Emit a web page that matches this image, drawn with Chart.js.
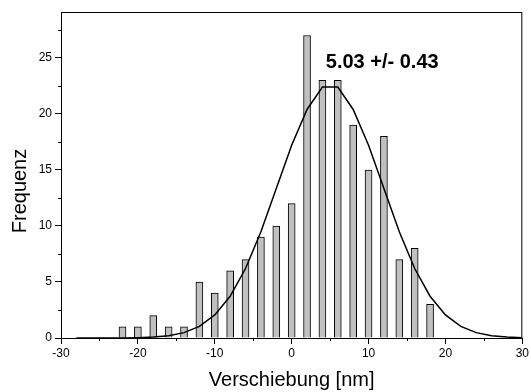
<!DOCTYPE html>
<html>
<head>
<meta charset="utf-8">
<script src="https://cdn.jsdelivr.net/npm/chart.js@4"></script>
<style>
  html, body { margin: 0; padding: 0; background: #fff; }
  #wrap { width: 531px; height: 392px; }
</style>
</head>
<body>
<div id="wrap"><canvas id="chart"></canvas></div>
<script>
// histogram bins (nm) and counts
const binCenters = [-22, -20, -18, -16, -14, -12, -10, -8, -6, -4, -2, 0, 2, 4, 6, 8, 10, 12, 14, 16, 18];
const counts     = [1, 1, 2, 1, 1, 5, 4, 6, 7, 9, 10, 12, 27, 23, 23, 19, 15, 18, 7, 8, 3];

// gauss fit, every 2 nm
const fitX = [-28, -26, -24, -22, -20, -18, -16, -14, -12, -10, -8, -6, -4, -2, 0, 2, 4, 6, 8, 10, 12, 14, 16, 18, 20, 22, 24, 26, 28, 30];
const fitY = [0, 0, 0, 0.01, 0.03, 0.08, 0.21, 0.48, 1.04, 2.06, 3.73, 6.2, 9.49, 13.34, 17.2, 20.4, 22.4, 22.4, 20.4, 17.2, 13.34, 9.49, 6.2, 3.73, 2.06, 1.04, 0.48, 0.21, 0.08, 0.03];

const fitLabel = '5.03 +/- 0.43';
const yTitle = 'Frequenz';

const font = 'Liberation Sans, Arial, sans-serif';

const boxPlugin = {
  id: 'box',
  afterDraw(chart) {
    const { ctx, chartArea: a, scales } = chart;
    ctx.save();
    ctx.strokeStyle = '#000';
    ctx.lineWidth = 1;
    ctx.strokeRect(a.left + 0.5, a.top + 0.5, a.right - a.left - 1, a.bottom - a.top);

    // minor ticks
    ctx.beginPath();
    for (let v = -25; v <= 25; v += 10) {
      const px = Math.round(scales.x.getPixelForValue(v)) + 0.5;
      ctx.moveTo(px, a.bottom);
      ctx.lineTo(px, a.bottom + 3);
    }
    for (let v = 2.5; v <= 27.5; v += 5) {
      const py = Math.round(scales.y.getPixelForValue(v)) + 0.5;
      ctx.moveTo(a.left, py);
      ctx.lineTo(a.left - 3, py);
    }
    ctx.stroke();

    ctx.fillStyle = '#000';
    ctx.font = 'bold 20px ' + font;
    ctx.textAlign = 'center';
    ctx.textBaseline = 'middle';
    ctx.fillText(fitLabel, scales.x.getPixelForValue(11.78), scales.y.getPixelForValue(24.6));

    // y title, sits a bit below the middle like the original
    ctx.font = '20px ' + font;
    ctx.translate(20, 191);
    ctx.rotate(-Math.PI / 2);
    ctx.fillText(yTitle, 0, 0);
    ctx.restore();
  }
};

new Chart(document.getElementById('chart'), {
  data: {
    datasets: [
      {
        type: 'line',
        data: fitX.map((x, i) => ({ x: x, y: fitY[i] })),
        borderColor: '#000',
        borderWidth: 1.5,
        pointRadius: 0,
        tension: 0,
        fill: false,
        order: 0
      },
      {
        type: 'bar',
        data: binCenters.map((x, i) => ({ x: x, y: counts[i] })),
        backgroundColor: '#c0c0c0',
        borderColor: '#000',
        borderWidth: 1,
        barThickness: 7,
        order: 1
      }
    ]
  },
  options: {
    responsive: true,
    maintainAspectRatio: false,
    animation: false,
    layout: { padding: { top: 12, right: 4, left: 0, bottom: 0 } },
    plugins: { legend: { display: false }, tooltip: { enabled: false } },
    scales: {
      x: {
        type: 'linear',
        min: -30,
        max: 30,
        offset: false,
        afterFit: s => { s.height = 54; },
        border: { display: true, color: '#000', width: 1 },
        grid: { drawOnChartArea: false, offset: false, tickLength: 6, tickColor: '#000' },
        ticks: {
          stepSize: 10,
          padding: 2,
          color: '#000',
          font: { family: font, size: 12 },
          maxRotation: 0
        },
        title: {
          display: true,
          text: 'Verschiebung [nm]',
          color: '#000',
          font: { family: font, size: 20 },
          padding: { top: 6, bottom: 0 }
        }
      },
      y: {
        type: 'linear',
        min: 0,
        max: 29.1,
        afterFit: s => { s.width = 61; },
        border: { display: true, color: '#000', width: 1 },
        grid: {
          drawOnChartArea: false,
          tickLength: 6,
          tickColor: c => (c.tick && c.tick.value % 5 === 0) ? '#000' : 'rgba(0,0,0,0)'
        },
        ticks: {
          stepSize: 5,
          padding: 3,
          color: '#000',
          font: { family: font, size: 12 },
          callback: v => (v % 5 === 0 ? v : '')
        }
      }
    }
  },
  plugins: [boxPlugin]
});
</script>
</body>
</html>
